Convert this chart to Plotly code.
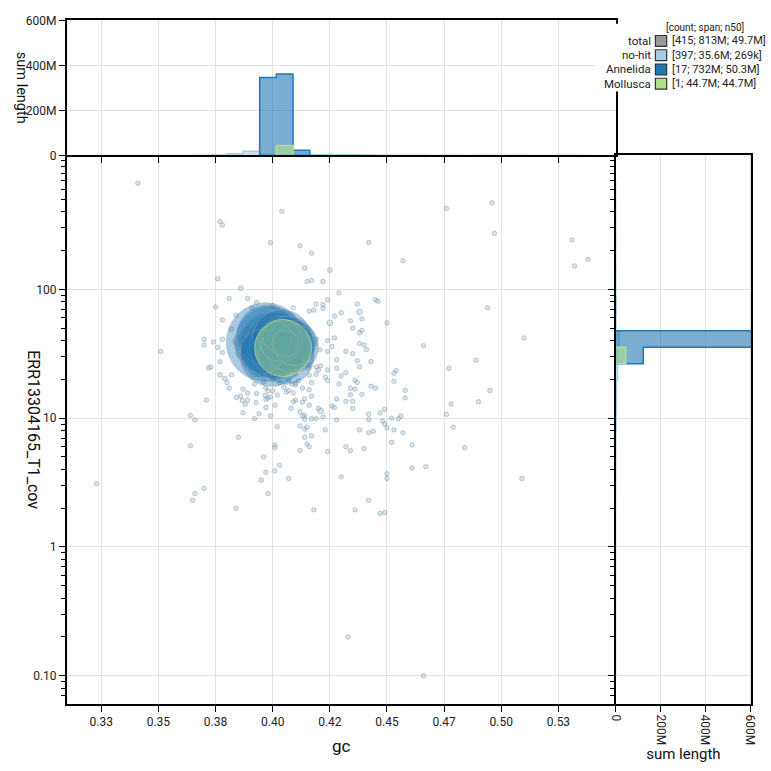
import numpy as np
import plotly.graph_objects as go

# ---------------- data ----------------
gc_ticks = [0.325, 0.35, 0.375, 0.40, 0.425, 0.45, 0.475, 0.50, 0.525]
gc_ticktext = ['0.33', '0.35', '0.38', '0.40', '0.42', '0.45', '0.47', '0.50', '0.53']
cov_ticks = [0.1, 1, 10, 100]
cov_ticktext = ['0.10', '1', '10', '100']
len_ticks = [0, 200e6, 400e6, 600e6]
len_ticktext = ['0', '200M', '400M', '600M']

# no-hit contigs: gc, coverage, length (Mb)
nohit_gc = [
    0.341, 0.404, 0.377, 0.378, 0.476, 0.496, 0.497, 0.399, 0.412, 0.442,
    0.417, 0.531, 0.457, 0.538, 0.532, 0.414, 0.425, 0.376, 0.415, 0.417,
    0.422, 0.386, 0.429, 0.381, 0.389, 0.393, 0.375, 0.391, 0.400, 0.409,
    0.424, 0.419, 0.422, 0.422, 0.416, 0.418, 0.437, 0.445, 0.446, 0.438,
    0.427, 0.430, 0.384, 0.378, 0.439, 0.425, 0.434, 0.450, 0.494, 0.382,
    0.435, 0.439, 0.438, 0.427, 0.419, 0.424, 0.510, 0.370, 0.374, 0.378,
    0.438, 0.440, 0.426, 0.370, 0.376,
    0.351, 0.378, 0.377, 0.372, 0.373, 0.377, 0.379, 0.380, 0.381, 0.371,
    0.382, 0.424, 0.432, 0.435, 0.441, 0.428, 0.437, 0.443, 0.438, 0.466,
    0.489, 0.477, 0.454, 0.453, 0.421, 0.420, 0.424, 0.428, 0.416, 0.419,
    0.416, 0.419, 0.423, 0.424, 0.432, 0.430, 0.436, 0.437, 0.429, 0.453,
    0.443, 0.445, 0.458, 0.458, 0.434, 0.436, 0.434, 0.439, 0.495, 0.490,
    0.478, 0.432, 0.435, 0.435, 0.428, 0.426, 0.427, 0.421, 0.420, 0.422,
    0.428, 0.417, 0.419, 0.414, 0.414, 0.413, 0.412, 0.416, 0.417, 0.414,
    0.413, 0.410, 0.408, 0.401, 0.397, 0.394, 0.392, 0.399, 0.387, 0.388,
    0.389, 0.386, 0.389, 0.393, 0.387, 0.397, 0.398, 0.399, 0.397, 0.398,
    0.400, 0.402, 0.406, 0.407, 0.409, 0.409, 0.410, 0.407, 0.403, 0.410,
    0.413, 0.416, 0.392, 0.396, 0.417,
    0.364, 0.366, 0.402, 0.412, 0.414, 0.415, 0.423, 0.438, 0.442, 0.442,
    0.442, 0.444, 0.447, 0.449, 0.448, 0.449, 0.450, 0.452, 0.455, 0.456,
    0.453, 0.457, 0.476, 0.479, 0.385, 0.414, 0.417, 0.415, 0.416, 0.412,
    0.401, 0.401, 0.364, 0.424, 0.432, 0.434, 0.440, 0.452, 0.461, 0.484,
    0.396, 0.403, 0.401, 0.397, 0.395, 0.407, 0.398, 0.430, 0.450, 0.450,
    0.461, 0.467, 0.509, 0.323, 0.366, 0.370, 0.365, 0.384, 0.418, 0.436,
    0.442, 0.447, 0.449, 0.433, 0.466,
    0.3841, 0.3867, 0.3927, 0.3967, 0.4049, 0.4085, 0.4114, 0.4154, 0.4185, 0.4207,
    0.390, 0.395, 0.400, 0.410, 0.405, 0.397, 0.392, 0.412, 0.387, 0.395,
    0.390, 0.392, 0.391, 0.389, 0.386, 0.3865, 0.385, 0.393, 0.395,
]
nohit_cov = [
    667, 404, 337, 316, 425, 470, 272, 231, 218, 231,
    191, 242, 167, 171, 152, 146, 141, 121, 115, 117,
    115, 102, 94, 85, 85, 79, 73, 72, 75, 72,
    83, 77, 76, 71, 68, 69, 77, 83, 81, 67,
    62, 66, 63, 58, 59, 55, 57, 55, 72, 49,
    50, 48, 46, 42, 41, 40, 42, 41, 39, 41,
    38, 37, 36, 37, 35.5,
    33, 32.3, 27.4, 24.5, 25, 21.7, 20.3, 18.9, 17.1, 13.8,
    21.7, 33, 33, 31.7, 34, 28.5, 27.9, 27.5, 25, 36.5,
    28.2, 24.4, 23.4, 22.3, 25.5, 23.7, 23.7, 24.4, 25.7, 25,
    21.5, 21.9, 20.8, 19.6, 22.6, 21.3, 19.7, 18.9, 18.4, 19.3,
    17.7, 17.1, 16.4, 14.4, 17.1, 16.8, 15.2, 15.3, 16.4, 13.4,
    12.9, 13.5, 13.5, 11.9, 14.1, 12.4, 12.1, 11.4, 11.9, 10.2,
    9.7, 9.9, 9.9, 10.5, 9.8, 10.4, 11.2, 12.6, 14.8, 14.1,
    13.3, 13.8, 11.9, 12.6, 12.1, 10.8, 9.9, 10.4, 11.0, 12.8,
    13.8, 14.8, 15.7, 15.5, 16.8, 14.0, 14.3, 14.6, 17.1, 16.3,
    16.3, 15.1, 15.9, 16.4, 15.7, 13.4, 18.1, 19.7, 18.7, 18.7,
    17.1, 16.6, 18.4, 19.1, 18.9,
    10.5, 9.7, 8.6, 8.7, 8.2, 8.5, 8.1, 8.1, 10.7, 9.7,
    7.7, 7.9, 11.0, 11.7, 9.5, 9.0, 8.4, 10.0, 9.9, 10.4,
    8.1, 7.7, 10.7, 8.5, 7.1, 7.1, 7.3, 6.3, 6.0, 5.6,
    6.2, 5.9, 6.1, 5.5, 6.0, 5.6, 5.8, 6.5, 6.2, 5.9,
    5.0, 4.3, 3.9, 3.8, 3.3, 3.4, 2.6, 3.5, 3.7, 3.4,
    4.1, 4.2, 3.4, 3.1, 2.6, 2.85, 2.3, 2.0, 1.94, 1.94,
    2.3, 1.82, 1.85, 0.2, 0.1,
    14.5, 13.7, 13.2, 15.0, 17.3, 18.4, 19.5, 24.5, 38, 33.9,
    28, 22, 20, 22, 40, 45, 38, 30, 32, 55,
    37, 42, 31, 45, 38, 32, 40, 24.0, 23.5,
]
nohit_len_mb = [
    0.12, 0.05, 0.15, 0.12, 0.2, 0.15, 0.15, 0.12, 0.15, 0.12,
    0.2, 0.12, 0.12, 0.12, 0.25, 0.3, 0.3, 0.12, 0.25, 0.2,
    0.12, 0.3, 0.2, 0.12, 0.12, 0.25, 0.25, 0.12, 0.08, 0.12,
    0.25, 0.12, 0.08, 0.08, 0.12, 0.08, 0.25, 0.15, 0.15, 0.45,
    0.08, 0.12, 0.15, 0.12, 0.12, 0.45, 0.25, 0.08, 0.08, 0.12,
    0.12, 0.12, 0.12, 0.12, 0.12, 0.12, 0.12, 0.08, 0.08, 0.3,
    0.12, 0.12, 0.12, 0.08, 0.3,
    0.08, 0.15, 0.15, 0.12, 0.12, 0.3, 0.15, 0.15, 0.15, 0.08,
    0.15, 0.2, 0.04, 0.15, 0.08, 0.12, 0.12, 0.25, 0.08, 0.12,
    0.12, 0.15, 0.08, 0.12, 0.12, 0.12, 0.04, 0.2, 0.12, 0.08,
    0.2, 0.12, 0.12, 0.08, 0.12, 0.08, 0.12, 0.08, 0.12, 0.12,
    0.08, 0.04, 0.12, 0.12, 0.12, 0.08, 0.12, 0.12, 0.12, 0.08,
    0.12, 0.08, 0.12, 0.12, 0.12, 0.08, 0.12, 0.45, 0.25, 0.12,
    0.15, 0.12, 0.08, 0.08, 0.12, 0.08, 0.08, 0.08, 0.08, 0.12,
    0.08, 0.12, 0.08, 0.08, 0.12, 0.12, 0.12, 0.08, 0.12, 0.12,
    0.12, 0.12, 0.12, 0.15, 0.12, 0.12, 0.08, 0.12, 0.12, 0.12,
    0.08, 0.08, 0.12, 0.08, 0.12, 0.08, 0.12, 0.12, 0.12, 0.08,
    0.12, 0.12, 0.12, 0.12, 0.12,
    0.08, 0.08, 0.08, 0.08, 0.08, 0.08, 0.08, 0.08, 0.08, 0.08,
    0.08, 0.08, 0.08, 0.2, 0.08, 0.08, 0.04, 0.08, 0.04, 0.08,
    0.08, 0.08, 0.08, 0.08, 0.04, 0.08, 0.04, 0.08, 0.08, 0.08,
    0.08, 0.08, 0.08, 0.08, 0.08, 0.08, 0.08, 0.08, 0.08, 0.08,
    0.04, 0.04, 0.04, 0.04, 0.05, 0.04, 0.05, 0.08, 0.08, 0.08,
    0.05, 0.05, 0.2, 0.05, 0.05, 0.05, 0.05, 0.05, 0.04, 0.04,
    0.05, 0.04, 0.04, 0.04, 0.04,
    0.12, 0.12, 0.12, 0.12, 0.12, 0.12, 0.12, 0.12, 0.12, 0.12,
    0.15, 0.15, 0.15, 0.15, 0.15, 0.15, 0.15, 0.15, 0.15, 0.15,
    4.0, 3.5, 3.0, 2.5, 2.5, 2.0, 1.5, 3.0, 2.5,
]

annelida_gc = [0.3969, 0.399, 0.400, 0.3995, 0.3975, 0.3955,
               0.402, 0.403, 0.404, 0.405, 0.406, 0.407, 0.4085, 0.4035, 0.402, 0.4055,
               0.4095]
annelida_cov = [39, 39, 37, 31, 44, 33,
                38, 36.5, 41, 37, 30, 38, 36, 40, 43, 38,
                37]
annelida_len_mb = [85, 70, 60, 55, 50.3, 26.7,
                   52, 50, 48, 45, 42, 40, 38, 25, 12, 10,
                   23]

mollusca_gc = [0.4046]
mollusca_cov = [35.0]
mollusca_len_mb = [44.7]

legend_names = ['total', 'no-hit', 'Annelida', 'Mollusca']
legend_stats = ['[415; 813M; 49.7M]', '[397; 35.6M; 269k]', '[17; 732M; 50.3M]', '[1; 44.7M; 44.7M]']
legend_header = '[count; span; n50]'

# ---------------- styling ----------------
COL_NOHIT = '#a6cee3'
COL_ANN = '#1f78b4'
COL_MOL = '#b2df8a'
COL_TOTAL = '#999999'
FONT = 'Roboto, Arial, sans-serif'
W = 771


def px(x):
    return x / W


def py(y):
    return 1 - y / W


X0, X1 = px(61), px(619)
Y0, Y1 = py(710), py(152)
TOP1 = py(14)
RIGHT1 = px(757)

GC_RANGE = [0.31, 0.55]
LOGCOV_RANGE = [-1.22, 3.04]
SIZEREF = 0.0275

gc_edges = np.arange(0.3067, 0.5601, 0.0073)
log_edges = np.arange(-1.266, 3.2, 0.128)

minor_cov = []
for dec in [0.01, 0.1, 1, 10, 100]:
    for m in range(2, 10):
        v = dec * m
        if 0.06 <= v <= 1000:
            minor_cov.append(v)
minor_cov.append(1000)

fig = go.Figure()


def top_step(gcs, lens):
    counts, _ = np.histogram(np.array(gcs), bins=gc_edges, weights=np.array(lens) * 1e6)
    nz = np.nonzero(counts)[0]
    i0, i1 = nz[0], nz[-1]
    xs = [gc_edges[i0]] + list(gc_edges[i0:i1 + 1]) + [gc_edges[i1 + 1]]
    ys = [0] + list(counts[i0:i1 + 1]) + [0]
    return xs, ys


def right_step(covs, lens):
    counts, _ = np.histogram(np.log10(np.array(covs)), bins=log_edges, weights=np.array(lens) * 1e6)
    nz = np.nonzero(counts)[0]
    i0, i1 = nz[0], nz[-1]
    ys = [10 ** log_edges[i0]] + [10 ** e for e in log_edges[i0:i1 + 1]] + [10 ** log_edges[i1 + 1]]
    xs = [0] + list(counts[i0:i1 + 1]) + [0]
    return xs, ys


groups = [
    (nohit_gc, nohit_cov, nohit_len_mb, COL_NOHIT, 'rgba(166,206,227,0.6)'),
    (annelida_gc, annelida_cov, annelida_len_mb, COL_ANN, 'rgba(31,120,180,0.6)'),
    (mollusca_gc, mollusca_cov, mollusca_len_mb, COL_MOL, 'rgba(178,223,138,0.6)'),
]

for g, c, l, col, fillc in groups:
    xs, ys = top_step(g, l)
    fig.add_trace(go.Scatter(x=xs, y=ys, xaxis='x2', yaxis='y2', mode='lines',
                             line=dict(color=col, width=1.5, shape='hv'),
                             fill='tozeroy', fillcolor=fillc, hoverinfo='skip', showlegend=False))
    xs, ys = right_step(c, l)
    fig.add_trace(go.Scatter(x=xs, y=ys, xaxis='x3', yaxis='y3', mode='lines',
                             line=dict(color=col, width=1.5, shape='vh'),
                             fill='tozerox', fillcolor=fillc, hoverinfo='skip', showlegend=False))

# scatter
fig.add_trace(go.Scatter(
    x=nohit_gc, y=nohit_cov, mode='markers', xaxis='x', yaxis='y',
    marker=dict(size=nohit_len_mb, sizemode='area', sizeref=SIZEREF, sizemin=2.2,
                color='rgba(166,206,227,0.65)', line=dict(color='rgba(90,110,125,0.75)', width=0.7)),
    showlegend=False, hoverinfo='skip'))

order = np.argsort(annelida_len_mb)[::-1]
fig.add_trace(go.Scatter(
    x=[annelida_gc[i] for i in order], y=[annelida_cov[i] for i in order], mode='markers',
    xaxis='x', yaxis='y',
    marker=dict(size=[annelida_len_mb[i] for i in order], sizemode='area', sizeref=SIZEREF,
                color='rgba(31,120,180,0.55)', line=dict(color='rgba(150,160,170,0.7)', width=1)),
    showlegend=False, hoverinfo='skip'))

fig.add_trace(go.Scatter(
    x=mollusca_gc, y=mollusca_cov, mode='markers', xaxis='x', yaxis='y',
    marker=dict(size=mollusca_len_mb, sizemode='area', sizeref=SIZEREF,
                color='rgba(178,223,138,0.65)', line=dict(color='rgba(215,228,140,0.9)', width=1)),
    showlegend=False, hoverinfo='skip'))

axis_common = dict(showline=True, linecolor='black', linewidth=2, ticks='outside',
                   tickcolor='black', tickwidth=1.2, ticklen=6,
                   tickfont=dict(family=FONT, size=12, color='#222'),
                   gridcolor='#e1e1e1', gridwidth=1, zeroline=False)

fig.update_layout(
    width=W, height=W, margin=dict(l=0, r=0, t=0, b=0),
    paper_bgcolor='white', plot_bgcolor='white', showlegend=False,
    font=dict(family=FONT, color='#111'),
    xaxis=dict(domain=[X0, X1], anchor='y', range=GC_RANGE, tickmode='array',
               tickvals=gc_ticks, ticktext=gc_ticktext, showgrid=True,
               title=dict(text='gc', font=dict(family=FONT, size=17), standoff=12),
               **axis_common),
    yaxis=dict(domain=[Y0, Y1], anchor='x', type='log', range=LOGCOV_RANGE, tickmode='array',
               tickvals=cov_ticks, ticktext=cov_ticktext, showgrid=True,
               minor=dict(tickmode='array', tickvals=minor_cov, ticks='outside', ticklen=4,
                          tickcolor='black', showgrid=False),
               **axis_common),
    xaxis2=dict(domain=[X0, X1], anchor='y2', matches='x', range=GC_RANGE, tickmode='array',
                tickvals=gc_ticks, showticklabels=False, showgrid=True, mirror=True,
                **axis_common),
    yaxis2=dict(domain=[Y1, TOP1], anchor='x2', range=[0, 604e6], tickmode='array',
                tickvals=len_ticks, ticktext=len_ticktext, showgrid=True, mirror=True,
                **axis_common),
    xaxis3=dict(domain=[X1, RIGHT1], anchor='y3', range=[0, 605e6], tickmode='array',
                tickvals=len_ticks, ticktext=len_ticktext, tickangle=90, showgrid=True, mirror=True,
                title=dict(text='sum length', font=dict(family=FONT, size=15), standoff=4),
                **axis_common),
    yaxis3=dict(domain=[Y0, Y1], anchor='x3', type='log', matches='y', range=LOGCOV_RANGE,
                tickmode='array', tickvals=cov_ticks, showticklabels=False, showgrid=True, mirror=True,
                minor=dict(tickmode='array', tickvals=minor_cov, ticks='outside', ticklen=4,
                           tickcolor='black', showgrid=False),
                **axis_common),
)

# axis titles placed as annotations
annotations = [
    dict(text='ERR13304165_T1_cov', x=px(27), y=py(431), xref='paper', yref='paper',
         textangle=90, xanchor='center', yanchor='middle', showarrow=False,
         font=dict(family=FONT, size=16, color='#111')),
    dict(text='sum length', x=px(15), y=py(83), xref='paper', yref='paper',
         textangle=90, xanchor='center', yanchor='middle', showarrow=False,
         font=dict(family=FONT, size=14.5, color='#111')),
]

# legend
shapes = [dict(type='rect', xref='paper', yref='paper', x0=px(598), x1=px(771), y0=py(87), y1=py(18),
               fillcolor='white', line=dict(width=0), layer='above')]
annotations.append(dict(text=legend_header, x=px(710), y=py(22), xref='paper', yref='paper',
                        xanchor='center', yanchor='middle', showarrow=False,
                        font=dict(family=FONT, size=10, color='#222')))
row_y = [35.5, 50, 64.5, 79]
swatch_cols = [COL_TOTAL, COL_NOHIT, COL_ANN, COL_MOL]
for name, stat, yy, sc in zip(legend_names, legend_stats, row_y, swatch_cols):
    shapes.append(dict(type='rect', xref='paper', yref='paper', x0=px(659.5), x1=px(671),
                       y0=py(yy + 5.5), y1=py(yy - 5.5), fillcolor=sc,
                       line=dict(color='#333', width=1.2), layer='above'))
    annotations.append(dict(text=name, x=px(657), y=py(yy), xref='paper', yref='paper',
                            xanchor='right', yanchor='middle', showarrow=False,
                            font=dict(family=FONT, size=11.5, color='#222')))
    annotations.append(dict(text=stat, x=px(674), y=py(yy), xref='paper', yref='paper',
                            xanchor='left', yanchor='middle', showarrow=False,
                            font=dict(family=FONT, size=11, color='#222')))
fig.update_layout(shapes=shapes, annotations=annotations)

fig.write_html('out.html')
